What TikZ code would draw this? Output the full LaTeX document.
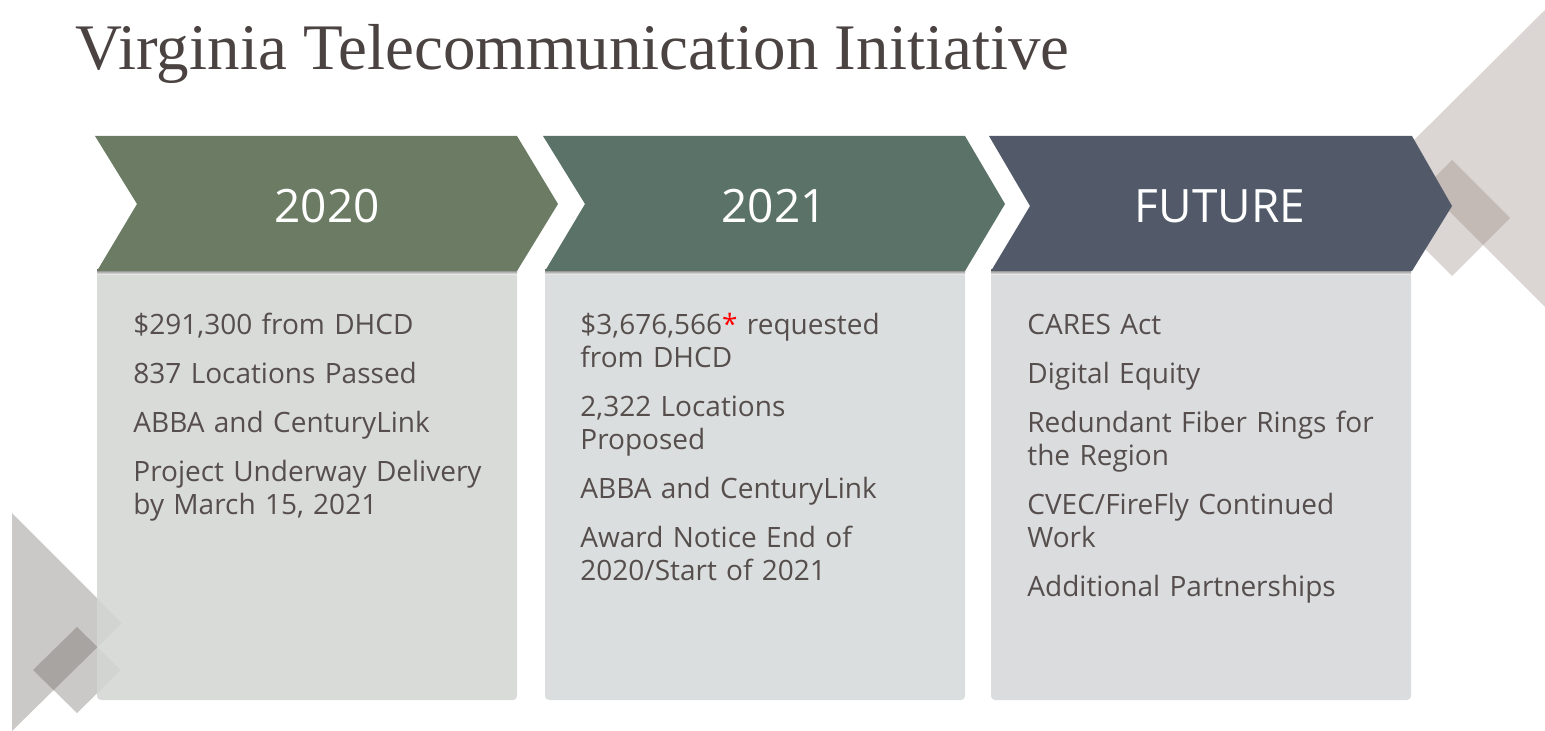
\documentclass[tikz,border=0pt]{standalone}
\usepackage{fontspec}
\setmainfont{Liberation Serif}
\newfontfamily\bodyfont{Open Sans}
\usetikzlibrary{positioning}

\definecolor{titlegray}{HTML}{4A4341}
\definecolor{textgray}{HTML}{554E4C}
\definecolor{chevA}{HTML}{6C7C64}
\definecolor{chevB}{HTML}{5A7268}
\definecolor{chevC}{HTML}{525A6A}
\definecolor{boxA}{HTML}{D4D6D3}
\definecolor{boxB}{HTML}{D6DAD9}
\definecolor{boxC}{HTML}{D5D7DA}
\definecolor{shade}{HTML}{B8BCB8}
\definecolor{beigeL}{HTML}{DBD5D3}
\definecolor{beigeD}{HTML}{C3BAB6}
\definecolor{greyL}{HTML}{CBC9C7}
\definecolor{greyD}{HTML}{A8A4A2}

\tikzset{
  heading/.style={text=white, font=\bodyfont\fontsize{23}{26}\selectfont, inner sep=0pt, anchor=base},
  item/.style={text=textgray, font=\bodyfont\fontsize{14}{16.5}\selectfont, inner sep=0pt,
               text width=180pt, align=left, anchor=base west},
  infobox/.style={fill opacity=0.88, rounded corners=2pt}
}

\begin{document}
\begin{tikzpicture}[x=0.5pt,y=-0.5pt]
    \useasboundingbox (0,0) rectangle (1545,731);

    % decoration, right side
    \fill[beigeL] (1545,10) -- (1396,158) -- (1545,307) -- cycle;
    \fill[beigeL] (1452,160) -- (1510,218) -- (1452,276) -- (1394,218) -- cycle;
    \begin{scope}
        \clip (1545,10) -- (1396,158) -- (1545,307) -- cycle;
        \fill[beigeD] (1452,160) -- (1510,218) -- (1452,276) -- (1394,218) -- cycle;
    \end{scope}

    % decoration, left side
    \fill[greyL] (12,513) -- (122,623) -- (12,731) -- cycle;
    \fill[greyL] (77,627) -- (121,670) -- (77,713) -- (33,670) -- cycle;
    \begin{scope}
        \clip (12,513) -- (122,623) -- (12,731) -- cycle;
        \fill[greyD] (77,627) -- (121,670) -- (77,713) -- (33,670) -- cycle;
    \end{scope}

    % boxes
    \fill[infobox, boxA] (97,272) rectangle (517,700);
    \fill[infobox, boxB] (545,272) rectangle (965,700);
    \fill[infobox, boxC] (991,272) rectangle (1411,700);
    \fill[shade] (97,270) rectangle (517,275);
    \fill[shade] (545,270) rectangle (965,275);
    \fill[shade] (991,270) rectangle (1411,275);

    % chevrons
    \fill[chevA] (95,136) -- (517,136) -- (558,204) -- (517,271) -- (97,271) -- (137,204) -- cycle;
    \fill[chevB] (543,136) -- (965,136) -- (1005,204) -- (965,271) -- (545,271) -- (585,204) -- cycle;
    \fill[chevC] (989,136) -- (1412,136) -- (1452,206) -- (1412,271) -- (991,271) -- (1030,206) -- cycle;

    \node[heading] (h2020) at (327,223) {2020};
    \node[heading] (h2021) at (774,223) {2021};
    \node[heading] (hfuture) at (1220,223) {FUTURE};

    % title
    \node[text=titlegray, font=\fontsize{32.5}{36}\selectfont, inner sep=0pt, anchor=base west]
        (title) at (75,70) {Virginia Telecommunication Initiative};

    % box texts
    \node[item] (t2020) at (133,335) {\$291,300 from DHCD\\[8pt]
        837 Locations Passed\\[8pt]
        ABBA and CenturyLink\\[8pt]
        Project Underway Delivery\\by March 15, 2021};
    \node[item] (t2021) at (580,335) {\$3,676,566\textcolor{red}{*} requested\\from DHCD\\[8pt]
        2,322 Locations\\Proposed\\[8pt]
        ABBA and CenturyLink\\[8pt]
        Award Notice End of\\2020/Start of 2021};
    \node[item] (tfuture) at (1027,335) {CARES Act\\[8pt]
        Digital Equity\\[8pt]
        Redundant Fiber Rings for\\the Region\\[8pt]
        CVEC/FireFly Continued\\Work\\[8pt]
        Additional Partnerships};

\end{tikzpicture}
\end{document}
